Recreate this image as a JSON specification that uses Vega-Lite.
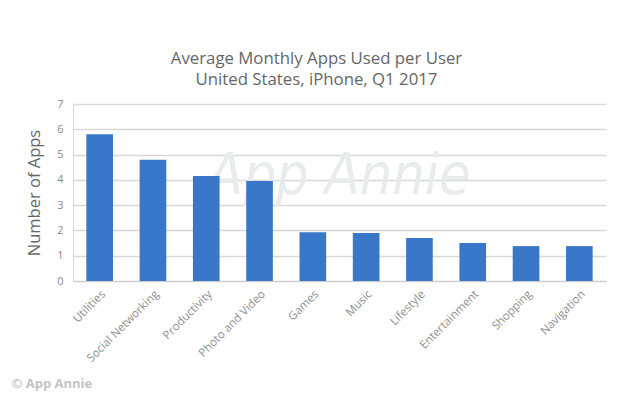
{
  "$schema": "https://vega.github.io/schema/vega-lite/v6.json",
  "width": 533,
  "height": 177,
  "autosize": {"type": "none"},
  "padding": {"left": 73, "top": 104, "right": 28, "bottom": 118},
  "background": "white",
  "title": {
    "text": ["Average Monthly Apps Used per User", "United States, iPhone, Q1 2017"],
    "font": "Open Sans",
    "fontSize": 16.8,
    "fontWeight": "normal",
    "color": "#666666",
    "lineHeight": 21,
    "anchor": "middle",
    "offset": 9,
    "dx": -23
  },
  "config": {
    "view": {"stroke": null},
    "axis": {"labelFont": "Open Sans", "titleFont": "Open Sans"}
  },
  "encoding": {
    "y": {
      "field": "apps", "type": "quantitative",
      "scale": {"domain": [0, 7]},
      "axis": {
        "title": "Number of Apps", "titleColor": "#666666", "titleFontSize": 16.5,
        "titleFontWeight": "normal", "titlePadding": 14,
        "values": [0, 1, 2, 3, 4, 5, 6, 7],
        "labelColor": "#8a8a8a", "labelFontSize": 11, "labelPadding": 10,
        "ticks": false, "domain": true, "domainColor": "#d8d8d8",
        "gridColor": "#d8d8d8", "gridWidth": 1.5
      }
    }
  },
  "layer": [
    {
      "data": {"values": [{"label": "App Annie", "apps": 4.1}]},
      "mark": {"type": "text", "font": "DejaVu Sans Condensed", "fontStyle": "italic", "fontWeight": 200, "fontSize": 57, "color": "#e8ecec", "baseline": "middle", "align": "center"},
      "encoding": {
        "text": {"field": "label"}
      }
    },
    {
      "data": {"values": [
        {"category": "Utilities", "apps": 5.8},
        {"category": "Social Networking", "apps": 4.8},
        {"category": "Productivity", "apps": 4.15},
        {"category": "Photo and Video", "apps": 3.95},
        {"category": "Games", "apps": 1.93},
        {"category": "Music", "apps": 1.9},
        {"category": "Lifestyle", "apps": 1.7},
        {"category": "Entertainment", "apps": 1.5},
        {"category": "Shopping", "apps": 1.38},
        {"category": "Navigation", "apps": 1.38}
      ]},
      "mark": {"type": "bar", "color": "#3a77c8"},
      "encoding": {
        "x": {
          "field": "category", "type": "nominal", "sort": null,
          "scale": {"paddingInner": 0.5, "paddingOuter": 0.25},
          "axis": {
            "labelAngle": -45, "labelColor": "#8f8f8f", "labelFontSize": 11.5,
            "ticks": false, "labelPadding": 7, "domainColor": "#cccccc",
            "title": "© App Annie", "titleColor": "#c4c4c4", "titleFontSize": 13,
            "titleFontWeight": "bold", "titleAnchor": "start", "titleAlign": "left",
            "titleX": -62, "titleY": 109, "titleBaseline": "bottom"
          }
        }
      }
    }
  ]
}
